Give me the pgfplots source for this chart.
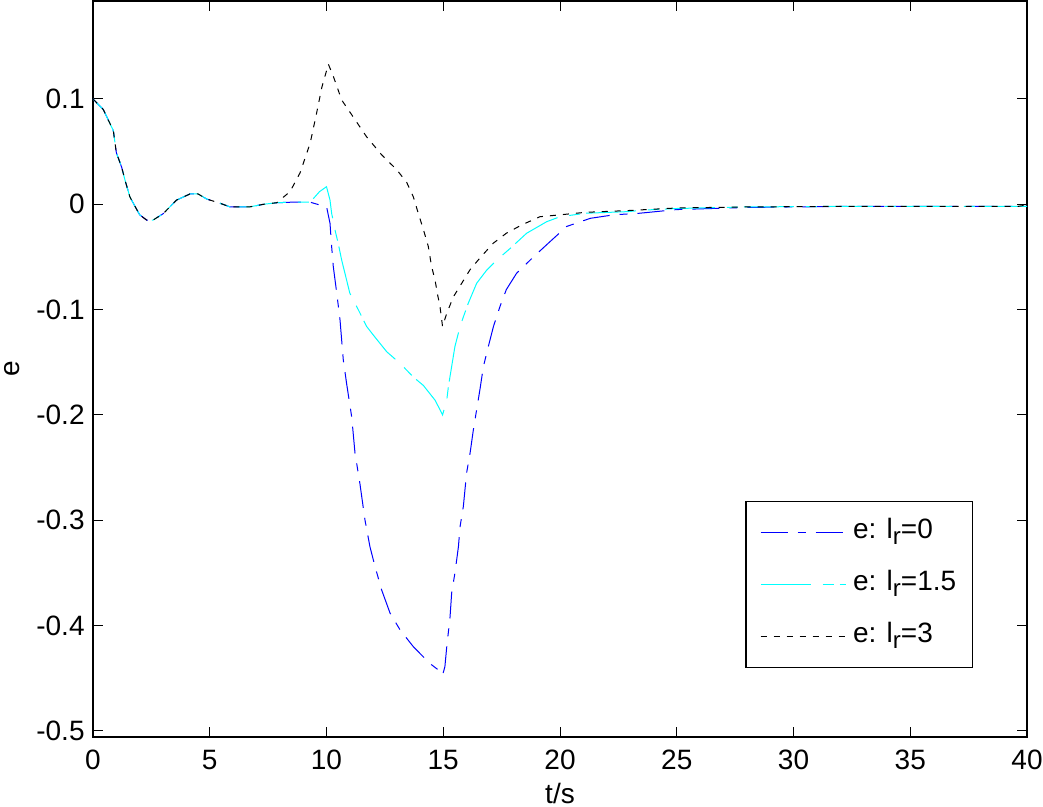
\documentclass[border=0pt]{standalone}
\usepackage{fontspec}
\setmainfont{Liberation Sans}
\usepackage{pgfplots}
\pgfplotsset{compat=1.18}
\definecolor{mcyan}{RGB}{0,255,255}
\definecolor{mblue}{RGB}{0,0,255}
\newcommand{\lr}{l\raisebox{-3pt}{\fontsize{12}{14}\selectfont r}}

\begin{document}
\begin{tikzpicture}
\begin{axis}[
  scale only axis,
  width=467pt, height=368pt,
  xmin=0, xmax=40,
  ymin=-0.5057, ymax=0.193,
  xtick={0,5,10,15,20,25,30,35,40},
  ytick={-0.5,-0.4,-0.3,-0.2,-0.1,0,0.1},
  yticklabels={-0.5,-0.4,-0.3,-0.2,-0.1,0,0.1},
  font=\fontsize{14}{16}\selectfont,
  /pgf/number format/assume math mode=true,
  tick align=inside,
  major tick length=5pt,
  tick style={black, line width=0.5pt},
  axis line style={line width=0.7pt},
  xticklabel style={anchor=base, yshift=-16.5pt, inner sep=0pt},
  yticklabel style={anchor=east, xshift=-4pt, inner sep=0pt},
  xlabel={t/s},
  ylabel={e},
  every axis x label/.style={at={(rel axis cs:0.5,0)}, anchor=base, yshift=-33.5pt},
  every axis y label/.style={at={(rel axis cs:0,0.5)}, rotate=90, anchor=center, inner sep=0pt, yshift=40.5pt},
  legend image code/.code={\draw[#1] (0pt,0pt) -- (42.5pt,0pt); \path (45pt,0pt);},
  legend cell align=left,
  legend style={at={(0.942,0.0937)}, anchor=south east, draw=black,
    line width=0.6pt, fill=white, inner xsep=7pt, inner ysep=7.5pt,
    row sep=10pt, nodes={inner sep=1pt, text height=10pt, text depth=4pt}},
]
\coordinate (bl) at (rel axis cs:0,0);
\coordinate (tr) at (rel axis cs:1,1);

\addplot[mblue, line width=0.5pt, dash pattern=on 13.5pt off 5pt on 4pt off 5pt] coordinates {
(0,0.1)(0.44,0.09)(0.87,0.07)(1.0,0.049)(1.23,0.035)(1.37,0.023)(1.58,0.007)
(1.8,-0.002)(2.0,-0.01)(2.3,-0.015)(2.57,-0.015)(3.0,-0.009)(3.58,0.004)
(4.15,0.0098)(4.5,0.0098)(4.87,0.005)(5.44,0.001)(5.87,-0.0025)(6.7,-0.0025)
(7.3,0)(7.87,0.0015)(8.5,0.002)(9.3,0.002)(9.72,-0.0007)(10.0,-0.002)
(10.15,-0.018)(10.22,-0.04)(10.29,-0.059)(10.44,-0.0845)(10.58,-0.11)
(10.72,-0.148)(10.86,-0.17)(11.08,-0.202)(11.22,-0.236)(11.43,-0.265)
(11.65,-0.3)(11.86,-0.325)(12.08,-0.344)(12.36,-0.366)(12.72,-0.388)
(13.15,-0.404)(13.72,-0.42)(14.43,-0.436)(14.79,-0.442)(14.97,-0.447)
(15.07,-0.439)(15.15,-0.42)(15.29,-0.392)(15.36,-0.369)(15.5,-0.35)
(15.65,-0.325)(15.72,-0.306)(15.86,-0.287)(16.0,-0.255)(16.15,-0.236)
(16.29,-0.214)(16.43,-0.195)(16.57,-0.176)(16.72,-0.154)(16.93,-0.135)
(17.15,-0.116)(17.43,-0.097)(17.7,-0.081)(18.14,-0.0655)(18.86,-0.05)
(19.57,-0.0355)(20.29,-0.021)(21.3,-0.0133)(22.3,-0.010)(23.4,-0.0085)
(25,-0.005)(28,-0.003)(32,-0.002)(36,-0.002)(40,-0.002)
};
\addlegendentry{e: \lr=0}

\addplot[mcyan, line width=0.5pt, dash pattern=on 25pt off 6pt on 5.5pt off 3pt] coordinates {
(0,0.1)(0.44,0.09)(0.87,0.07)(1.0,0.049)(1.23,0.035)(1.37,0.023)(1.58,0.007)
(1.8,-0.002)(2.0,-0.01)(2.3,-0.015)(2.57,-0.015)(3.0,-0.009)(3.58,0.004)
(4.15,0.0098)(4.5,0.0098)(4.87,0.005)(5.44,0.001)(5.87,-0.0025)(6.7,-0.0025)
(7.3,0)(7.87,0.0015)(8.5,0.002)(9.3,0.002)(9.7,0.012)(10.0,0.0167)
(10.15,0.004)(10.22,-0.0085)(10.36,-0.024)(10.5,-0.037)(10.65,-0.053)
(10.79,-0.0655)(11.0,-0.0845)(11.36,-0.1)(11.72,-0.116)(12.0,-0.124)
(12.58,-0.14)(13.15,-0.151)(13.72,-0.164)(14.15,-0.172)(14.65,-0.186)
(14.86,-0.195)(14.97,-0.2)(15.15,-0.186)(15.22,-0.173)(15.36,-0.154)
(15.5,-0.135)(15.72,-0.116)(15.86,-0.107)(16.07,-0.094)(16.43,-0.075)
(16.86,-0.0625)(17.29,-0.053)(17.86,-0.042)(18.57,-0.0275)(19.43,-0.0165)
(20.0,-0.0118)(21.1,-0.0085)(22.86,-0.007)(23.7,-0.0054)(25,-0.004)
(28,-0.0025)(32,-0.002)(36,-0.002)(40,-0.002)
};
\addlegendentry{e: \lr=1.5}

\addplot[black, line width=0.5pt, dash pattern=on 3pt off 3.5pt] coordinates {
(0,0.1)(0.44,0.09)(0.87,0.07)(1.0,0.049)(1.23,0.035)(1.37,0.023)(1.58,0.007)
(1.8,-0.002)(2.0,-0.01)(2.3,-0.015)(2.57,-0.015)(3.0,-0.009)(3.58,0.004)
(4.15,0.0098)(4.5,0.0098)(4.87,0.005)(5.44,0.001)(5.87,-0.0025)(6.7,-0.0025)
(7.3,0)(7.87,0.0015)(8.0,0.004)(8.44,0.012)(8.87,0.03)(9.3,0.058)(9.58,0.087)
(9.8,0.111)(10.08,0.133)(10.3,0.121)(10.65,0.099)(11.08,0.085)(11.72,0.064)
(12.36,0.047)(13.0,0.033)(13.43,0.021)(13.72,0.007)(13.93,-0.0085)
(14.15,-0.024)(14.36,-0.04)(14.5,-0.059)(14.65,-0.072)(14.75,-0.085)
(14.86,-0.097)(14.97,-0.116)(15.15,-0.1035)(15.43,-0.088)(15.79,-0.075)
(16.15,-0.062)(16.57,-0.051)(17.14,-0.037)(17.7,-0.0275)(18.35,-0.0197)
(19.14,-0.0118)(20.0,-0.010)(21.1,-0.0076)(22.86,-0.006)(25,-0.0035)
(28,-0.0025)(32,-0.002)(36,-0.002)(39.6,-0.002)(40,-0.0007)
};
\addlegendentry{e: \lr=3}
\end{axis}
\pgfresetboundingbox
\path[use as bounding box] ([xshift=-46.5pt,yshift=-35pt]bl) rectangle ([xshift=8pt,yshift=0.5pt]tr);
\end{tikzpicture}
\end{document}
